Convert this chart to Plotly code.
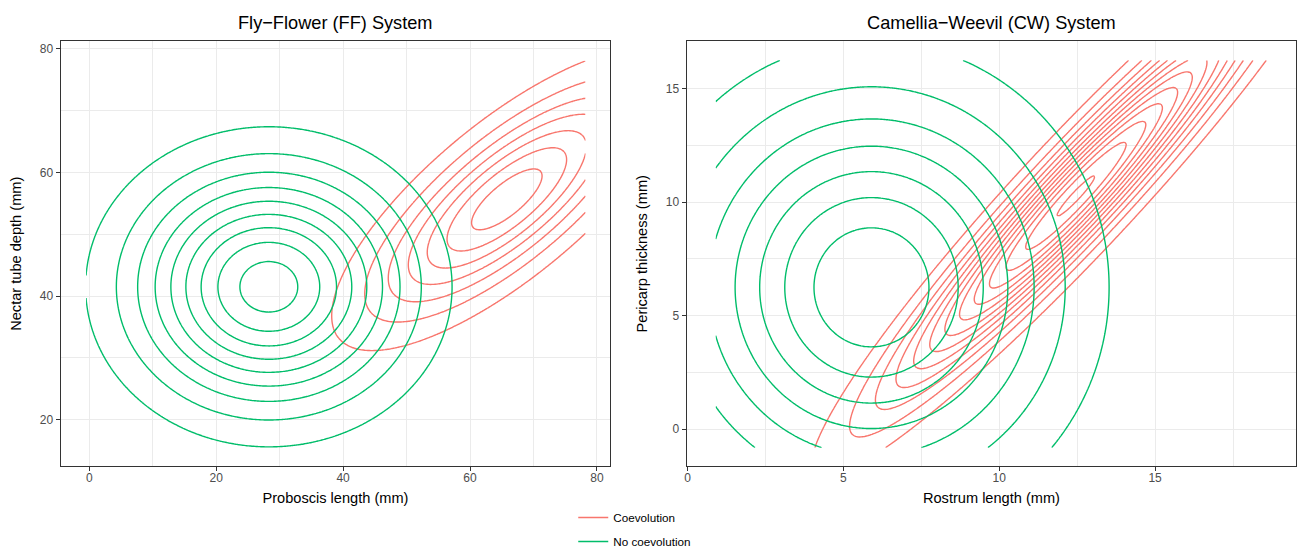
import numpy as np
import plotly.graph_objects as go

# ---------------- data ----------------
groups = ["Coevolution", "No coevolution"]
group_colors = ["#F8766D", "#00BD6A"]

# Fly-Flower (FF) system: bivariate density per group
ff_mean_x = [65.8, 28.3]
ff_mean_y = [55.65, 41.5]
ff_sd_x = [13.7, 13.6]
ff_sd_y = [12.15, 12.2]
ff_rho = [0.77, 0.0]
ff_peak = [7.6, 9.52]        # peak height in units of one contour step
ff_n_levels = [7, 9]
ff_grid_x = [-0.5, 78.2]
ff_grid_y = [10.0, 78.1]

# Camellia-Weevil (CW) system
cw_mean_x = [12.46, 5.9]
cw_mean_y = [10.28, 6.25]
cw_sd_x = [3.74, 3.75]
cw_sd_y = [5.47, 5.33]
cw_rho = [0.955, 0.0]
cw_peak = [13.17, 7.9]
cw_n_levels = [13, 7]
cw_grid_x = [0.9, 19.5]
cw_grid_y = [-0.81, 16.25]

ff_xticks = [0, 20, 40, 60, 80]
ff_yticks = [20, 40, 60, 80]
cw_xticks = [0, 5, 10, 15]
cw_yticks = [0, 5, 10, 15]

titles = ["Fly\u2212Flower (FF) System", "Camellia\u2212Weevil (CW) System"]
x_titles = ["Proboscis length (mm)", "Rostrum length (mm)"]
y_titles = ["Nectar tube depth (mm)", "Pericarp thickness (mm)"]


def density(xr, yr, mx, my, sx, sy, rho, peak, n=320):
    xs = np.linspace(xr[0], xr[1], n)
    ys = np.linspace(yr[0], yr[1], n)
    X, Y = np.meshgrid(xs, ys)
    u = (X - mx) / sx
    v = (Y - my) / sy
    q = (u * u - 2 * rho * u * v + v * v) / (1 - rho * rho)
    return xs, ys, np.round(peak * np.exp(-q / 2), 5)


fig = go.Figure()

panels = [
    ("x", "y", ff_mean_x, ff_mean_y, ff_sd_x, ff_sd_y, ff_rho, ff_peak, ff_n_levels, ff_grid_x, ff_grid_y),
    ("x2", "y2", cw_mean_x, cw_mean_y, cw_sd_x, cw_sd_y, cw_rho, cw_peak, cw_n_levels, cw_grid_x, cw_grid_y),
]

for xa, ya, mx, my, sx, sy, rh, pk, nl, gx, gy in panels:
    for i, g in enumerate(groups):
        xs, ys, z = density(gx, gy, mx[i], my[i], sx[i], sy[i], rh[i], pk[i])
        fig.add_trace(go.Contour(
            x=xs, y=ys, z=z, xaxis=xa, yaxis=ya,
            autocontour=False,
            contours=dict(coloring="none", start=1, end=nl[i], size=1, showlabels=False),
            line=dict(color=group_colors[i], width=1.4, smoothing=1),
            showscale=False, showlegend=False, hoverinfo="skip", name=g,
        ))

for i, g in enumerate(groups):
    fig.add_trace(go.Scatter(
        x=[None], y=[None], mode="lines", name=g, legendgroup=g,
        line=dict(color=group_colors[i], width=1.4), xaxis="x", yaxis="y",
    ))

grid_c = "#EBEBEB"
line_c = "#333333"
tick_font = dict(size=12, color="#4D4D4D")
title_font = dict(size=14.6, color="#000000")


def axis(domain, rng, ticks, minor_dtick, title, anchor, standoff, label_shift):
    return dict(
        domain=domain, range=rng, anchor=anchor, automargin=False,
        tickmode="array", tickvals=ticks, ticktext=[str(t) for t in ticks],
        showgrid=True, gridcolor=grid_c, gridwidth=1.1,
        minor=dict(dtick=minor_dtick, tick0=0, showgrid=True, gridcolor=grid_c,
                   gridwidth=0.55, ticks=""),
        showline=True, mirror=True, linecolor=line_c, linewidth=1.1,
        ticks="outside", ticklen=4, tickwidth=1.1, tickcolor=line_c,
        tickfont=tick_font, zeroline=False, ticklabelstandoff=label_shift,
        title=dict(text=title, font=title_font, standoff=standoff),
    )


ydom = [0.1496, 0.9243]
fig.update_layout(
    width=1299, height=548, autosize=False,
    margin=dict(l=0, r=0, t=0, b=0, autoexpand=False),
    paper_bgcolor="white", plot_bgcolor="white",
    font=dict(family="Liberation Sans, Arial, sans-serif", color="#000000"),
    xaxis=axis([0.0467, 0.4698], [-4.5, 82.1], ff_xticks, 10, x_titles[0], "y", 8, -3),
    yaxis=axis(ydom, [12.5, 81.2], ff_yticks, 10, y_titles[0], "x", 14, 0),
    xaxis2=axis([0.5286, 0.9979], [-0.03, 19.53], cw_xticks, 2.5, x_titles[1], "y2", 8, -3),
    yaxis2=axis(ydom, [-1.62, 17.08], cw_yticks, 2.5, y_titles[1], "x2", 14, 0),
    legend=dict(x=0.4413, y=1 - 503 / 548, xanchor="left", yanchor="top",
                orientation="v", font=dict(size=11.7, color="#000000"),
                tracegroupgap=5, itemwidth=30, bgcolor="rgba(0,0,0,0)"),
    showlegend=True,
)

title_x = [(0.0467 + 0.4698) / 2, (0.5286 + 0.9979) / 2]
for tx, tt in zip(title_x, titles):
    fig.add_annotation(text=tt, x=tx, y=1 - 22.5 / 548, xref="paper", yref="paper",
                       xanchor="center", yanchor="middle", showarrow=False,
                       font=dict(size=18.2, color="#000000"))

fig.write_html("out.html", config={"displayModeBar": False},
               post_script="document.body.style.margin='0px';")
